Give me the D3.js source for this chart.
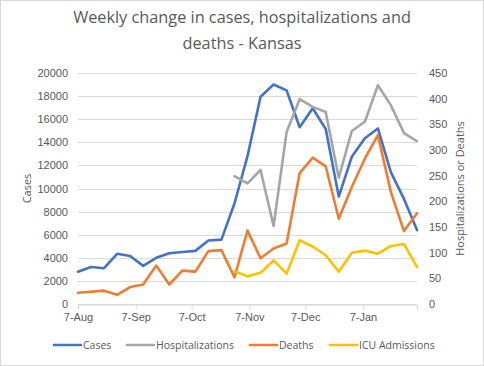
<!DOCTYPE html>
<html>
<head>
<meta charset="utf-8">
<script src="https://cdn.jsdelivr.net/npm/d3@7"></script>
<style>
  body { margin: 0; background: #fff; }
  svg { display: block; font-family: "Open Sans", "DejaVu Sans", sans-serif; }
</style>
</head>
<body>
<div id="chart"></div>
<script>
// Weekly data, 7-Aug-2020 to 5-Feb-2021
const startDate = new Date(2020, 7, 7);
const cases = [2800, 3200, 3100, 4350, 4150, 3300, 4000, 4400, 4500, 4600, 5500, 5570, 8700,
  12800, 17950, 19000, 18500, 15300, 16950, 15150, 9300, 12750, 14350, 15200, 11400, 9100, 6400];
const hospitalizations = [null, null, null, null, null, null, null, null, null, null, null, null, 249,
  235, 261, 152, 335, 399, 384, 374, 246, 337, 355, 426, 387, 333, 317];
const deaths = [22, 24, 26, 18, 33, 38, 75, 38, 65, 63, 103, 105, 52,
  143, 89, 108, 118, 255, 285, 268, 166, 228, 283, 329, 218, 142, 177];
const icu = [null, null, null, null, null, null, null, null, null, null, null, null, 64,
  54, 61, 85, 59, 124, 112, 95, 63, 100, 104, 98, 113, 117, 72];

const leftTicks = d3.range(0, 20001, 2000);
const rightTicks = d3.range(0, 451, 50);
const monthTicks = [new Date(2020, 7, 7), new Date(2020, 8, 7), new Date(2020, 9, 7),
  new Date(2020, 10, 7), new Date(2020, 11, 7), new Date(2021, 0, 7)];

const seriesList = [
  { name: 'Cases', values: cases, axis: 'left', color: '#4472C4' },
  { name: 'Hospitalizations', values: hospitalizations, axis: 'right', color: '#A5A5A5' },
  { name: 'Deaths', values: deaths, axis: 'right', color: '#ED7D31' },
  { name: 'ICU Admissions', values: icu, axis: 'right', color: '#FFC000' }
];

const width = 484, height = 366;
const margin = { left: 78, right: 67, top: 73, bottom: 62 };
const textColor = '#595959';
const gridColor = '#d9d9d9';

const svg = d3.select('#chart').append('svg')
  .attr('width', width)
  .attr('height', height);

// outer border
svg.append('rect')
  .attr('x', 0.5).attr('y', 0.5)
  .attr('width', width - 1).attr('height', height - 1)
  .attr('fill', '#fff').attr('stroke', gridColor);

const dates = cases.map((d, i) => d3.timeDay.offset(startDate, i * 7));

const x = d3.scaleTime()
  .domain([dates[0], dates[dates.length - 1]])
  .range([margin.left, width - margin.right]);
const yLeft = d3.scaleLinear().domain([0, 20000]).range([height - margin.bottom, margin.top]);
const yRight = d3.scaleLinear().domain([0, 450]).range([height - margin.bottom, margin.top]);

// title
const title = svg.append('text')
  .attr('text-anchor', 'middle')
  .attr('fill', textColor)
  .style('font-size', '16.3px');
title.append('tspan').attr('x', width / 2).attr('y', 23).text('Weekly change in cases, hospitalizations and');
title.append('tspan').attr('x', width / 2).attr('y', 49).text('deaths - Kansas');

// gridlines
svg.append('g')
  .selectAll('line')
  .data(leftTicks)
  .join('line')
  .attr('x1', margin.left).attr('x2', width - margin.right)
  .attr('y1', d => Math.round(yLeft(d)) + 0.5)
  .attr('y2', d => Math.round(yLeft(d)) + 0.5)
  .attr('stroke', gridColor);

// left axis
const leftAxis = svg.append('g')
  .attr('transform', `translate(${margin.left},0)`)
  .call(d3.axisLeft(yLeft).tickValues(leftTicks).tickSize(0).tickPadding(10).tickFormat(d3.format('d')));
leftAxis.select('.domain').remove();
leftAxis.selectAll('text').attr('fill', textColor).style('font-size', '11px').style('font-family', 'inherit');

// right axis
const rightAxis = svg.append('g')
  .attr('transform', `translate(${width - margin.right},0)`)
  .call(d3.axisRight(yRight).tickValues(rightTicks).tickSize(0).tickPadding(12));
rightAxis.select('.domain').remove();
rightAxis.selectAll('text').attr('fill', textColor).style('font-size', '11px').style('font-family', 'inherit');

// x axis
const xAxis = svg.append('g')
  .attr('transform', `translate(0,${Math.round(height - margin.bottom) + 0.5})`)
  .call(d3.axisBottom(x).tickValues(monthTicks).tickSize(5).tickPadding(4)
    .tickFormat(d3.timeFormat('%-d-%b')));
xAxis.select('.domain').attr('stroke', gridColor);
xAxis.selectAll('line').attr('stroke', gridColor);
xAxis.selectAll('text').attr('fill', textColor).style('font-size', '11px').style('font-family', 'inherit');

// axis titles
svg.append('text')
  .attr('transform', `translate(31,${(margin.top + height - margin.bottom) / 2}) rotate(-90)`)
  .attr('text-anchor', 'middle')
  .attr('fill', textColor)
  .style('font-size', '11px')
  .text('Cases');
svg.append('text')
  .attr('transform', `translate(464,${(margin.top + height - margin.bottom) / 2}) rotate(-90)`)
  .attr('text-anchor', 'middle')
  .attr('fill', textColor)
  .style('font-size', '11px')
  .text('Hospitalizations or Deaths');

// lines
seriesList.forEach(s => {
  const yScale = s.axis === 'left' ? yLeft : yRight;
  const line = d3.line()
    .defined(d => d != null)
    .x((d, i) => x(dates[i]))
    .y(d => yScale(d));
  svg.append('path')
    .datum(s.values)
    .attr('d', line)
    .attr('fill', 'none')
    .attr('stroke', s.color)
    .attr('stroke-width', 2.6)
    .attr('stroke-linejoin', 'round')
    .attr('stroke-linecap', 'round');
});

// legend
const legendX = [54, 127, 250, 330];
const legend = svg.append('g');
seriesList.forEach((s, i) => {
  const g = legend.append('g').attr('transform', `translate(${legendX[i]},345)`);
  g.append('line')
    .attr('x1', 0).attr('x2', 27)
    .attr('stroke', s.color).attr('stroke-width', 2.6).attr('stroke-linecap', 'round');
  g.append('text')
    .attr('x', 29).attr('y', 4)
    .attr('fill', textColor)
    .style('font-size', '10.5px')
    .text(s.name);
});
</script>
</body>
</html>
